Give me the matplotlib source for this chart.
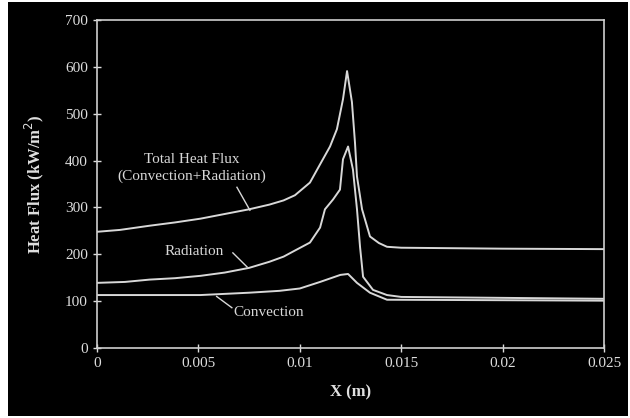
import matplotlib
matplotlib.use("Agg")
import matplotlib.pyplot as plt
from matplotlib.patches import Rectangle

# Data
x_total = [0.0, 0.00113, 0.0026, 0.00385, 0.0051, 0.0063, 0.0075, 0.0085, 0.0092, 0.00976,
           0.0105, 0.0110, 0.01149, 0.01183, 0.01213, 0.01233, 0.01257, 0.01272, 0.01282,
           0.01307, 0.01346, 0.0139, 0.0143, 0.0150, 0.020, 0.025]
y_total = [248, 252, 261, 268, 276, 286, 296, 306, 315, 326,
           353, 392, 430, 467, 531, 591, 525, 439, 366,
           296, 238, 224, 216, 214, 212, 211]

x_rad = [0.0, 0.00138, 0.0026, 0.00385, 0.0051, 0.0063, 0.0075, 0.0085, 0.0092, 0.00976,
         0.0105, 0.0110, 0.01124, 0.01164, 0.01198, 0.01213, 0.01238, 0.01262, 0.01282,
         0.01297, 0.01312, 0.01361, 0.0143, 0.0150, 0.020, 0.025]
y_rad = [139, 141, 146, 149, 154, 161, 171, 184, 195, 208,
         225, 257, 296, 317, 338, 403, 430, 381, 296,
         216, 152, 124, 113, 109, 107, 105]

x_conv = [0.0, 0.0051, 0.0075, 0.0090, 0.0100, 0.0110, 0.0120, 0.01238, 0.01282, 0.01346,
          0.0143, 0.020, 0.025]
y_conv = [113, 113, 118, 122, 127, 141, 156, 158, 139, 118,
          103, 102, 101]

xticks = [0, 0.005, 0.01, 0.015, 0.02, 0.025]
xticklabels = ["0", "0.005", "0.01", "0.015", "0.02", "0.025"]
yticks = [0, 100, 200, 300, 400, 500, 600, 700]

plt.rcParams['font.family'] = ['Liberation Serif', 'DejaVu Serif']

fig = plt.figure(figsize=(6.3, 4.18), dpi=100, facecolor='white')
fig.patches.append(Rectangle((8/630, 2/418), 620/630, 414/418, transform=fig.transFigure,
                             facecolor='black', edgecolor='none', zorder=-10))

ax = fig.add_axes([97/630, 1 - 348/418, (604 - 97)/630, (348 - 20)/418])
ax.set_facecolor('black')

lc = '#d8d8d8'
ax.plot(x_total, y_total, color=lc, lw=1.4)
ax.plot(x_rad, y_rad, color=lc, lw=1.4)
ax.plot(x_conv, y_conv, color=lc, lw=1.4)

ax.set_xlim(0, 0.025)
ax.set_ylim(0, 700)
ax.set_xticks(xticks)
ax.set_xticklabels(xticklabels)
ax.set_yticks(yticks)
for s in ax.spines.values():
    s.set_color('#cfcfcf')
    s.set_linewidth(1.2)
ax.tick_params(colors='#dddddd', direction='inout', length=6, width=1, labelsize=11)
for lab in ax.get_xticklabels() + ax.get_yticklabels():
    lab.set_color('#dddddd')

ax.set_xlabel("X (m)", color='#e0e0e0', fontsize=12, fontweight='bold', labelpad=10)
ax.set_ylabel("Heat Flux (kW/m$^2$)", color='#e0e0e0', fontsize=12, fontweight='bold', labelpad=14)

tc = '#d8d8d8'
ax.text(0.00465, 402, "Total Heat Flux", color=tc, fontsize=11, ha='center', va='center')
ax.text(0.00465, 366, "(Convection+Radiation)", color=tc, fontsize=11, ha='center', va='center')
ax.plot([0.00690, 0.00754], [343, 294], color=lc, lw=1)

ax.text(0.00480, 205, "Radiation", color=tc, fontsize=11, ha='center', va='center')
ax.plot([0.00670, 0.00740], [203, 173], color=lc, lw=1)

ax.text(0.0067, 76, "Convection", color=tc, fontsize=11, ha='left', va='center')
ax.plot([0.00590, 0.00665], [110, 86], color=lc, lw=1)

fig.savefig("out.png", dpi=100, facecolor=fig.get_facecolor())
